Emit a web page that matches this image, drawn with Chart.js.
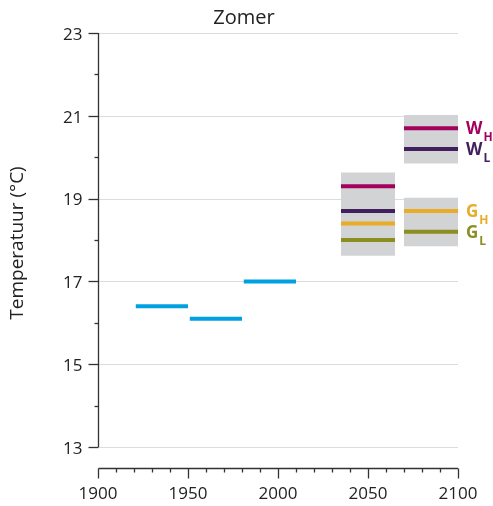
<!DOCTYPE html>
<html>
<head>
<meta charset="utf-8">
<script src="https://cdn.jsdelivr.net/npm/chart.js@4/dist/chart.umd.min.js"></script>
<style>
  body { margin: 0; background: #fff; }
  #wrap { width: 493px; height: 506px; position: relative; }
</style>
</head>
<body>
<div id="wrap"><canvas id="zomerChart"></canvas></div>
<script>
// Waarnemingen (30-jaar gemiddelden)
const obsStart = [1921, 1951, 1981];
const obsEnd = [1950, 1980, 2010];
const obsTemp = [16.4, 16.1, 17.0];

// Scenario perioden
const scenStart = [2035, 2070];
const scenEnd = [2065, 2100];
const scenWH = [19.3, 20.7];
const scenWL = [18.7, 20.2];
const scenGH = [18.4, 18.7];
const scenGL = [18.0, 18.2];

// Grijze bandbreedtes
const boxStart = [2035, 2070, 2070];
const boxEnd = [2065, 2100, 2100];
const boxLow = [17.62, 19.85, 17.85];
const boxHigh = [19.63, 21.02, 19.02];

// As-labels
const xTicks = [1900, 1950, 2000, 2050, 2100];
const yTicks = [13, 15, 17, 19, 21, 23];

const scenNames = [
  { key: "W", sub: "H", vals: scenWH, color: "#a4005e" },
  { key: "W", sub: "L", vals: scenWL, color: "#42205e" },
  { key: "G", sub: "H", vals: scenGH, color: "#e9ac26" },
  { key: "G", sub: "L", vals: scenGL, color: "#8d8e22" }
];

const FONT = "'Open Sans', sans-serif";

const datasets = [];

// waarnemingen
obsStart.forEach((s, i) => {
  datasets.push({
    data: [{ x: s, y: obsTemp[i] }, { x: obsEnd[i], y: obsTemp[i] }],
    borderColor: "#00a0e1",
    borderWidth: 4,
    pointRadius: 0,
    fill: false,
    order: 0
  });
});

// scenario lijnen
scenNames.forEach(sc => {
  sc.vals.forEach((v, i) => {
    datasets.push({
      data: [{ x: scenStart[i], y: v }, { x: scenEnd[i], y: v }],
      borderColor: sc.color,
      borderWidth: 4,
      pointRadius: 0,
      fill: false,
      order: 0
    });
  });
});

// bandbreedtes als gevulde lijnen (achter de lijnen)
boxStart.forEach((s, i) => {
  datasets.push({
    data: [{ x: s, y: boxHigh[i] }, { x: boxEnd[i], y: boxHigh[i] }],
    borderWidth: 0,
    borderColor: "rgba(0,0,0,0)",
    pointRadius: 0,
    backgroundColor: "#d1d3d4",
    fill: { value: boxLow[i] },
    order: 1
  });
});

// eigen assen, raster en labels
const axesPlugin = {
  id: "axesPlugin",
  beforeDatasetsDraw(chart) {
    const ctx = chart.ctx;
    const xs = chart.scales.x, ys = chart.scales.y;
    const left = xs.getPixelForValue(1900), right = xs.getPixelForValue(2100);
    ctx.save();
    ctx.strokeStyle = "#dcdcdc";
    ctx.lineWidth = 1;
    yTicks.forEach(t => {
      const y = Math.round(ys.getPixelForValue(t)) + 0.5;
      ctx.beginPath(); ctx.moveTo(left, y); ctx.lineTo(right, y); ctx.stroke();
    });
    ctx.restore();
  },
  afterDraw(chart) {
    const ctx = chart.ctx;
    const xs = chart.scales.x, ys = chart.scales.y;
    const left = Math.round(xs.getPixelForValue(1900)) + 0.5;
    const right = xs.getPixelForValue(2100);
    const top = ys.getPixelForValue(23), bottom = ys.getPixelForValue(13);
    ctx.save();
    ctx.strokeStyle = "#333";
    ctx.fillStyle = "#222";
    ctx.lineWidth = 1.3;

    // y-as
    ctx.beginPath(); ctx.moveTo(left, top); ctx.lineTo(left, bottom); ctx.stroke();
    for (let t = 13; t <= 23; t++) {
      const y = Math.round(ys.getPixelForValue(t)) + 0.5;
      const len = t % 2 ? 10 : 4;
      ctx.beginPath(); ctx.moveTo(left - len, y); ctx.lineTo(left, y); ctx.stroke();
    }
    ctx.font = "17px " + FONT;
    ctx.textAlign = "right";
    ctx.textBaseline = "middle";
    yTicks.forEach(t => ctx.fillText(String(t), left - 16, ys.getPixelForValue(t) + 2));

    // x-as (los onder de grafiek)
    const axY = 468.5;
    ctx.beginPath(); ctx.moveTo(left, axY); ctx.lineTo(right, axY); ctx.stroke();
    for (let t = 1900; t <= 2100; t += 10) {
      const x = Math.round(xs.getPixelForValue(t)) + 0.5;
      const len = t % 50 ? 4 : 10;
      ctx.beginPath(); ctx.moveTo(x, axY); ctx.lineTo(x, axY + len); ctx.stroke();
    }
    ctx.textAlign = "center";
    xTicks.forEach(t => ctx.fillText(String(t), xs.getPixelForValue(t), 494));

    // titel en y-label
    ctx.font = "20px " + FONT;
    ctx.fillText("Zomer", 244, 18);
    ctx.save();
    ctx.translate(18, 243);
    ctx.rotate(-Math.PI / 2);
    ctx.font = "19px " + FONT;
    ctx.fillText("Temperatuur (°C)", 0, 0);
    ctx.restore();

    // scenario namen
    ctx.textAlign = "left";
    ctx.textBaseline = "alphabetic";
    scenNames.forEach(sc => {
      const y = ys.getPixelForValue(sc.vals[1]);
      ctx.fillStyle = sc.color;
      ctx.font = "bold 17px " + FONT;
      ctx.fillText(sc.key, 466, y + 6);
      const w = ctx.measureText(sc.key).width;
      ctx.font = "bold 12px " + FONT;
      ctx.fillText(sc.sub, 466 + w + 1, y + 13);
    });
    ctx.restore();
  }
};

new Chart(document.getElementById("zomerChart"), {
  type: "line",
  data: { datasets },
  options: {
    responsive: true,
    maintainAspectRatio: false,
    animation: false,
    layout: { padding: { left: 98, right: 35, top: 33, bottom: 59 } },
    plugins: { legend: { display: false }, tooltip: { enabled: false }, title: { display: false } },
    scales: {
      x: { type: "linear", min: 1900, max: 2100, display: false },
      y: { type: "linear", min: 13, max: 23, display: false }
    }
  },
  plugins: [axesPlugin]
});
</script>
</body>
</html>
